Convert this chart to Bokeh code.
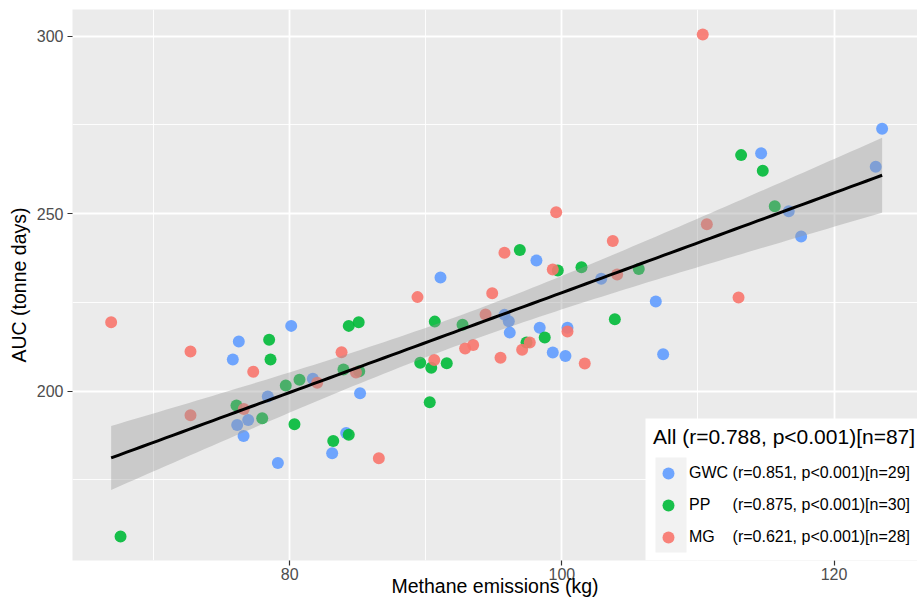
import numpy as np
from bokeh.plotting import figure
from bokeh.models import Range1d, FixedTicker, Legend, LegendItem, BoxAnnotation
from bokeh.embed import file_html
from bokeh.resources import INLINE

# ---- data ----
gwc_x = [76.26, 80.11, 75.82, 81.70, 78.39, 85.17, 76.95, 76.14, 76.61, 84.15,
         83.12, 79.13, 98.13, 91.08, 102.89, 106.90, 95.78, 96.10, 98.37, 100.41,
         96.17, 99.33, 100.26, 107.44, 123.53, 114.64, 123.06, 116.67, 117.58]
gwc_y = [214.0, 218.4, 208.9, 203.5, 198.5, 199.4, 191.9, 190.5, 187.4, 188.2,
         182.5, 179.8, 236.8, 232.0, 231.7, 225.3, 221.5, 219.7, 217.9, 217.9,
         216.5, 210.9, 209.9, 210.4, 273.9, 267.0, 263.2, 250.7, 243.6]

pp_x = [78.49, 84.34, 85.07, 78.59, 83.95, 80.72, 79.71, 76.09, 77.98, 80.35,
        84.34, 83.20, 67.57, 96.91, 99.70, 101.44, 105.65, 90.66, 92.70, 103.89,
        97.40, 98.74, 89.59, 90.40, 91.54, 85.11, 90.29, 113.17, 114.76, 115.64]
pp_y = [214.5, 218.4, 219.4, 208.9, 206.1, 203.2, 201.6, 196.0, 192.4, 190.7,
        187.7, 186.0, 159.1, 239.8, 234.0, 234.9, 234.4, 219.6, 218.7, 220.3,
        213.7, 215.1, 208.0, 206.6, 207.9, 205.6, 196.9, 266.5, 262.1, 252.1]

mg_x = [66.88, 72.71, 77.32, 83.81, 82.02, 76.63, 72.71, 84.87, 99.58, 103.74,
        95.78, 99.33, 104.06, 89.39, 94.88, 94.39, 100.41, 97.64, 93.48, 92.89,
        97.08, 95.49, 101.68, 90.62, 86.55, 110.35, 110.65, 112.98]
mg_y = [219.4, 211.2, 205.5, 211.0, 202.4, 195.0, 193.2, 205.3, 250.4, 242.3,
        239.0, 234.3, 232.9, 226.5, 227.6, 221.6, 216.8, 213.7, 213.0, 212.0,
        211.7, 209.4, 207.8, 208.8, 181.1, 300.5, 247.0, 226.4]

x_ticks = [80, 100, 120]
x_minor = [70, 90, 110]
y_ticks = [200, 250, 300]
y_minor = [175, 225, 275]

legend_title = "All (r=0.788, p<0.001)[n=87]"
group_names = ["GWC", "PP", "MG"]
group_stats = ["(r=0.851, p<0.001)[n=29]", "(r=0.875, p<0.001)[n=30]", "(r=0.621, p<0.001)[n=28]"]
group_pad = [" ", "\u00a0\u00a0\u00a0\u00a0\u00a0", "\u00a0\u00a0\u00a0\u00a0"]
group_colors = ["#619CFF", "#00BA38", "#F8766D"]

FONT = "Liberation Sans"

p = figure(width=917, height=611, output_backend="svg", toolbar_location=None,
           x_range=Range1d(64.04, 126.13), y_range=Range1d(152.31, 307.52),
           min_border_left=72, min_border_right=0, min_border_top=9, min_border_bottom=51)

p.background_fill_color = "#EBEBEB"
p.border_fill_color = "white"
p.outline_line_color = None

p.xaxis.ticker = FixedTicker(ticks=x_ticks, minor_ticks=x_minor)
p.yaxis.ticker = FixedTicker(ticks=y_ticks, minor_ticks=y_minor)
for g in (p.xgrid, p.ygrid):
    g.grid_line_color = "white"
    g.grid_line_width = 1.8
    g.minor_grid_line_color = "white"
    g.minor_grid_line_width = 0.9

p.axis.axis_line_color = None
p.axis.minor_tick_line_color = None
p.axis.major_tick_in = 0
p.axis.major_tick_out = 5
p.axis.major_tick_line_color = "#333333"
p.axis.major_tick_line_width = 1.2
p.axis.major_label_text_font = FONT
p.axis.major_label_text_font_size = "16px"
p.axis.major_label_text_color = "#4D4D4D"
p.axis.axis_label_text_font = FONT
p.axis.axis_label_text_font_size = "19.5px"
p.axis.axis_label_text_font_style = "normal"
p.axis.axis_label_text_color = "black"
p.xaxis.axis_label = "Methane emissions (kg)"
p.yaxis.axis_label = "AUC (tonne days)"
p.xaxis.major_label_standoff = 2
p.xaxis.axis_label_standoff = -8
p.yaxis.major_label_standoff = 4
p.yaxis.axis_label_standoff = 4

renderers = []
for xs_, ys_, c in ((gwc_x, gwc_y, group_colors[0]), (pp_x, pp_y, group_colors[1]), (mg_x, mg_y, group_colors[2])):
    r = p.scatter(xs_, ys_, size=12, fill_color=c, line_color=None, fill_alpha=0.9)
    renderers.append(r)

# linear fit with 99% confidence band over all points
all_x = np.array(gwc_x + pp_x + mg_x)
all_y = np.array(gwc_y + pp_y + mg_y)
n = len(all_x)
b, a = np.polyfit(all_x, all_y, 1)
xs = np.linspace(all_x.min(), all_x.max(), 100)
fit = a + b * xs
resid = all_y - (a + b * all_x)
s = np.sqrt((resid ** 2).sum() / (n - 2))
sxx = ((all_x - all_x.mean()) ** 2).sum()
se = s * np.sqrt(1.0 / n + (xs - all_x.mean()) ** 2 / sxx)
t = 2.635  # t quantile, level 0.99, df = 85
p.varea(x=xs, y1=fit - t * se, y2=fit + t * se, fill_color="#999999", fill_alpha=0.4)
p.line(xs, fit, line_color="black", line_width=3)

# legend
box_white = BoxAnnotation(left=573, right=845, bottom=0, top=142,
                          left_units="screen", right_units="screen",
                          bottom_units="screen", top_units="screen",
                          fill_color="white", fill_alpha=1.0, line_color=None)
box_key = BoxAnnotation(left=583, right=614, bottom=8, top=103,
                        left_units="screen", right_units="screen",
                        bottom_units="screen", top_units="screen",
                        fill_color="#F2F2F2", fill_alpha=1.0, line_color=None)
p.add_layout(box_white)
p.add_layout(box_key)

items = [LegendItem(label=nm + pad + st, renderers=[r])
         for nm, pad, st, r in zip(group_names, group_pad, group_stats, renderers)]
legend = Legend(items=items, location=(581, 8), title=legend_title,
                title_text_font=FONT, title_text_font_size="21px", title_text_font_style="normal",
                title_text_color="black", title_standoff=9,
                label_text_font=FONT, label_text_font_size="16px", label_text_color="black",
                glyph_width=30, glyph_height=30, label_height=30, label_standoff=6,
                spacing=2, padding=10, margin=0,
                background_fill_alpha=0, border_line_color=None)
p.add_layout(legend)

open("out.html", "w").write(file_html(p, INLINE))
